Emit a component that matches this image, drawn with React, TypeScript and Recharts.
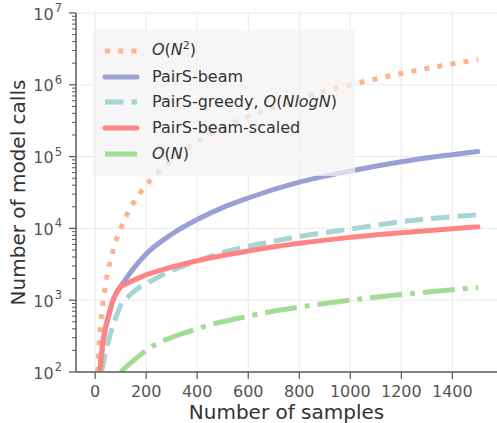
import { CartesianGrid, Label, Line, LineChart, XAxis, YAxis } from "recharts";

// values (x = number of samples, y = model calls)
const quadN = [10, 15, 20, 30, 40, 50, 60, 80, 100, 130, 170, 220, 300, 400, 500, 650, 800, 1000, 1200, 1500];
const quadCalls = [100, 225, 400, 900, 1600, 2500, 3600, 6400, 10000, 16900, 28900, 48400, 90000, 160000, 250000, 422500, 640000, 1000000, 1440000, 2250000];

const beamN = [20, 30, 40, 50, 60, 70, 80, 90, 100, 150, 200, 300, 400, 500, 600, 800, 1000, 1200, 1500];
const beamCalls = [110, 250, 400, 560, 760, 1000, 1200, 1380, 1550, 2750, 4400, 8300, 13300, 19500, 26500, 44000, 63000, 85000, 118000];

const greedyN = [25, 40, 60, 80, 100, 130, 160, 200, 280, 400, 500, 600, 800, 1000, 1200, 1500];
const greedyCalls = [100, 180, 340, 560, 850, 1120, 1400, 1700, 2400, 3500, 4600, 5600, 7700, 9800, 12400, 15500];

// beam-scaled follows beam up to the knee at N=100, then grows slowly
const scaledHeadN = [20, 30, 40, 50, 60, 70, 80, 90, 100];
const scaledHeadCalls = [110, 250, 400, 560, 760, 1000, 1200, 1380, 1550];
const scaledTailN = [100, 200, 300, 400, 600, 800, 1000, 1200, 1500];
const scaledTailCalls = [1550, 2250, 2900, 3550, 4850, 6200, 7500, 8700, 10500];

const linearN = [100, 200, 400, 600, 800, 1000, 1200, 1500];
const linearCalls = [100, 200, 400, 600, 800, 1000, 1200, 1500];

const xTicks = [0, 200, 400, 600, 800, 1000, 1200, 1400];
const yMajor = [1e2, 1e3, 1e4, 1e5, 1e6, 1e7];
const yMinor = [2, 3, 4, 5, 6, 7, 8, 9].flatMap((m) =>
  [1e2, 1e3, 1e4, 1e5, 1e6].map((d) => m * d)
);

const C_QUAD = "#ffb38a";
const C_BEAM = "#9c9fd6";
const C_GREEDY = "#a7d4d4";
const C_SCALED = "#ff8484";
const C_LINEAR = "#a2dd95";

const FONT = "DejaVu Sans";
const TICK = "#555555";
const SPINE = "#5c5c5c";

const zip = (ns: number[], vs: number[]) => ns.map((n, i) => ({ n, v: vs[i] }));

function YTick({ x, y, payload }: any) {
  const v = payload.value as number;
  const e = Math.round(Math.log10(v));
  const major = Math.abs(Math.log10(v) - e) < 1e-6;
  return (
    <g>
      <line x1={x - (major ? 7 : 4)} x2={x} y1={y} y2={y} stroke={SPINE} strokeWidth={major ? 1.25 : 1} />
      {major ? (
        <text x={x - 14} y={y + 6.5} textAnchor="end" fill={TICK} fontFamily={FONT}>
          <tspan fontSize={16}>10</tspan>
          <tspan fontSize={11.5} dx={1} dy={-7.5}>
            {e}
          </tspan>
        </text>
      ) : null}
    </g>
  );
}

function XTick({ x, y, payload }: any) {
  return (
    <g>
      <line x1={x} x2={x} y1={y} y2={y + 7} stroke={SPINE} strokeWidth={1.25} />
      <text x={x} y={y + 25} textAnchor="middle" fill={TICK} fontSize={16} fontFamily={FONT}>
        {payload.value}
      </text>
    </g>
  );
}

const legendRows = [
  { key: "quad", color: C_QUAD, dash: "5 8.25", cap: "butt" },
  { key: "beam", color: C_BEAM, dash: undefined, cap: "round" },
  { key: "greedy", color: C_GREEDY, dash: "18.5 8", cap: "butt" },
  { key: "scaled", color: C_SCALED, dash: undefined, cap: "round" },
  { key: "linear", color: C_LINEAR, dash: "32 8 5 8", cap: "butt" },
];

const sup = { fontSize: 11, position: "relative" as const, top: -6, fontStyle: "normal" };

function legendText(key: string) {
  switch (key) {
    case "quad":
      return (
        <>
          <i>O</i>(<i>N</i>
          <span style={sup}>2</span>)
        </>
      );
    case "beam":
      return "PairS-beam";
    case "greedy":
      return (
        <>
          PairS-greedy, <i>O</i>(<i>NlogN</i>)
        </>
      );
    case "scaled":
      return "PairS-beam-scaled";
    default:
      return (
        <>
          <i>O</i>(<i>N</i>)
        </>
      );
  }
}

function ChartLegend() {
  return (
    <div
      style={{
        position: "absolute",
        left: 93,
        top: 30,
        width: 262,
        height: 146,
        background: "rgba(242,242,242,0.72)",
        boxSizing: "border-box",
        paddingTop: 8,
        fontFamily: FONT,
        fontSize: 16,
        color: "#333",
      }}
    >
      {legendRows.map((r) => (
        <div key={r.key} style={{ display: "flex", alignItems: "center", height: 25.8 }}>
          <svg width={59} height={12} style={{ flex: "none" }}>
            <line
              x1={12}
              x2={44}
              y1={6}
              y2={6}
              stroke={r.color}
              strokeWidth={5}
              strokeDasharray={r.dash}
              strokeLinecap={r.cap as any}
            />
          </svg>
          <span style={{ whiteSpace: "nowrap", lineHeight: "20px" }}>{legendText(r.key)}</span>
        </div>
      ))}
    </div>
  );
}

export default function App() {
  return (
    <div style={{ position: "absolute", left: 0, top: 0, width: 497, height: 423, background: "#fff" }}>
      <LineChart width={497} height={423} margin={{ top: 13, right: 0, bottom: 0, left: 0 }}>
        <CartesianGrid stroke="#e9e9e9" strokeWidth={1} horizontalValues={yMajor} verticalValues={xTicks} />
        <XAxis
          type="number"
          dataKey="n"
          domain={[-75, 1575]}
          ticks={xTicks}
          interval={0}
          allowDataOverflow
          height={51}
          tickSize={0}
          tickMargin={0}
          tickLine={false}
          axisLine={{ stroke: SPINE, strokeWidth: 1.5 }}
          tick={<XTick />}
        >
          <Label
            content={({ viewBox }: any) => (
              <text
                x={viewBox.x + viewBox.width / 2}
                y={viewBox.y + 47}
                textAnchor="middle"
                fill="#333"
                fontSize={20}
                fontFamily={FONT}
              >
                Number of samples
              </text>
            )}
          />
        </XAxis>
        <YAxis
          type="number"
          scale="log"
          domain={[100, 1e7]}
          ticks={[...yMajor, ...yMinor]}
          interval={0}
          allowDataOverflow
          width={76}
          tickSize={0}
          tickMargin={0}
          tickLine={false}
          axisLine={{ stroke: SPINE, strokeWidth: 1.5 }}
          tick={<YTick />}
        >
          <Label
            content={({ viewBox }: any) => {
              const cx = viewBox.x + 25;
              const cy = viewBox.y + viewBox.height / 2;
              return (
                <text
                  x={cx}
                  y={cy}
                  transform={`rotate(-90 ${cx} ${cy})`}
                  textAnchor="middle"
                  fill="#333"
                  fontSize={20}
                  fontFamily={FONT}
                >
                  Number of model calls
                </text>
              );
            }}
          />
        </YAxis>
        <Line
          data={zip(quadN, quadCalls)}
          dataKey="v"
          type="monotone"
          stroke={C_QUAD}
          strokeWidth={5}
          strokeDasharray="5 8.25"
          dot={false}
          activeDot={false}
          isAnimationActive={false}
        />
        <Line
          data={zip(beamN, beamCalls)}
          dataKey="v"
          type="monotone"
          stroke={C_BEAM}
          strokeWidth={5}
          strokeLinecap="round"
          dot={false}
          activeDot={false}
          isAnimationActive={false}
        />
        <Line
          data={zip(greedyN, greedyCalls)}
          dataKey="v"
          type="monotone"
          stroke={C_GREEDY}
          strokeWidth={5}
          strokeDasharray="18.5 8"
          dot={false}
          activeDot={false}
          isAnimationActive={false}
        />
        <Line
          data={zip(scaledHeadN, scaledHeadCalls)}
          dataKey="v"
          type="monotone"
          stroke={C_SCALED}
          strokeWidth={5}
          strokeLinecap="round"
          dot={false}
          activeDot={false}
          isAnimationActive={false}
        />
        <Line
          data={zip(scaledTailN, scaledTailCalls)}
          dataKey="v"
          type="monotone"
          stroke={C_SCALED}
          strokeWidth={5}
          strokeLinecap="round"
          strokeLinejoin="round"
          dot={false}
          activeDot={false}
          isAnimationActive={false}
        />
        <Line
          data={zip(linearN, linearCalls)}
          dataKey="v"
          type="monotone"
          stroke={C_LINEAR}
          strokeWidth={5}
          strokeDasharray="32 8 5 8"
          dot={false}
          activeDot={false}
          isAnimationActive={false}
        />
      </LineChart>
      <ChartLegend />
    </div>
  );
}
